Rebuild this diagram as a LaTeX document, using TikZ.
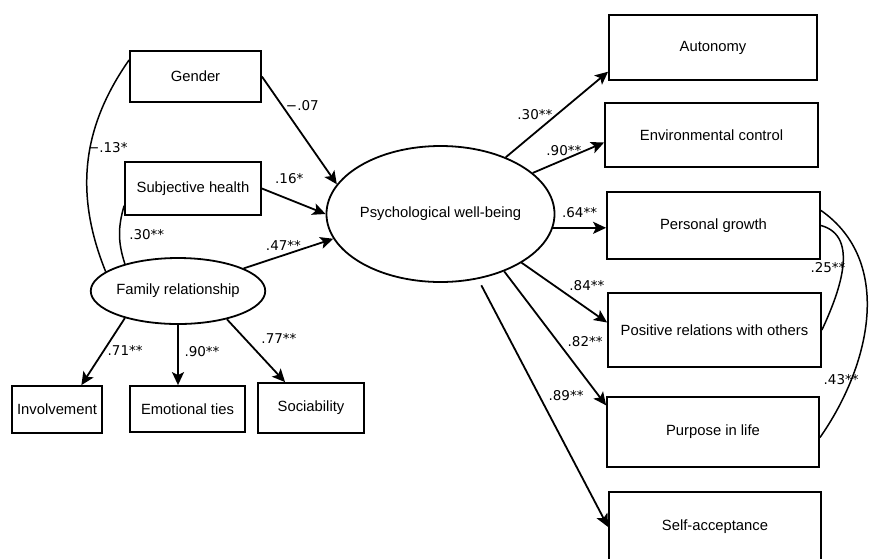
\documentclass[tikz,border=0pt]{standalone}
\usepackage{fontspec}
\setmainfont{Liberation Sans}
\newfontfamily\labelfont{DejaVu Sans}
\usetikzlibrary{arrows.meta,shapes.geometric}

\begin{document}
\begin{tikzpicture}[x=1pt,y=-1pt,
    >={Stealth[length=13pt,width=12pt,inset=3pt]},
    box/.style={draw,line width=1.8pt,inner sep=0pt,font=\fontsize{14.8}{17}\selectfont},
    oval/.style={draw,ellipse,line width=1.8pt,inner sep=0pt,font=\fontsize{14.8}{17}\selectfont},
    arr/.style={->,line width=1.8pt},
    cov/.style={line width=1.5pt},
    lbl/.style={font=\labelfont\fontsize{13.5}{14}\selectfont,inner sep=0pt}]
      \useasboundingbox (0,0) rectangle (870,558);
      \clip (0,0) rectangle (870,558);

      \node[box,minimum width=131pt,minimum height=51pt] (1) at (195.5,76.5) {Gender};
      \node[box,minimum width=136pt,minimum height=53pt] (2) at (193,188.5) {Subjective health};
      \node[oval,minimum width=162pt,minimum height=66pt] (3) at (178,291) {Family relationship};
      \node[box,minimum width=90pt,minimum height=47pt] (4) at (57,409.5) {Involvement};
      \node[box,minimum width=115pt,minimum height=46pt] (5) at (187.5,409) {Emotional ties};
      \node[box,minimum width=106pt,minimum height=50pt] (6) at (311,408) {Sociability};
      \node[oval,minimum width=225pt,minimum height=136pt] (7) at (440.5,214) {Psychological well-being};
      \node[box,minimum width=208pt,minimum height=65pt] (8) at (713,47.5) {Autonomy};
      \node[box,minimum width=213pt,minimum height=64pt] (9) at (711.5,135) {Environmental control};
      \node[box,minimum width=213pt,minimum height=67pt] (10) at (713.5,225.5) {Personal growth};
      \node[box,minimum width=213pt,minimum height=74pt] (11) at (714.5,330) {Positive relations with others};
      \node[box,minimum width=212pt,minimum height=70pt] (12) at (713,432) {Purpose in life};
      \node[box,minimum width=212pt,minimum height=70pt] (13) at (715,527) {Self-acceptance};

      %% predictors
      \draw[arr] (1.east) -- node[lbl,shift={(3,-25)}] {−.07} (7.164);
      \draw[arr] (2.east) -- node[lbl,shift={(-4.5,-23)}] {.16*} (7.180);
      \draw[arr] (3.19) -- node[lbl,shift={(-5,-8)}] {.47**} (7.193);
      \draw[cov] (1.166) to[out=235,in=112] node[lbl,pos=0.4,right=2pt,shift={(-6,6)}] {−.13*} (3.165);
      \draw[cov] (2.194) to[out=254,in=108] node[lbl,pos=0.5,right=9pt] {.30**} (3.153);

      %% family indicators
      \draw[arr] (3.207) -- node[lbl,shift={(22,-1)}] {.71**} (4.45);
      \draw[arr] (3.south) -- node[lbl,shift={(24,-3.5)}] {.90**} (3.south |- 5.north);
      \draw[arr] (3.-30) -- node[lbl,shift={(23,-12.5)}] {.77**} (6.135);

      %% well-being dimensions
      \draw[arr] (7.41) -- node[lbl,shift={(-22,0)}] {.30**} (8.193);
      \draw[arr] (7.24) -- node[lbl,shift={(-4.5,-7.5)}] {.90**} (9.184);
      \draw[arr] (7.-7) -- node[lbl,shift={(0,-15.5)}] {.64**} (7.-7 -| 10.west);
      \draw[arr] (7.-31) -- node[lbl,shift={(22.5,-7)}] {.84**} (11.176);
      \draw[arr] (7.-42) -- node[lbl,shift={(30,3.5)}] {.82**} (12.166);
      \draw[arr,shorten <=7pt] (7.-60) -- node[lbl,shift={(23,-7.5)}] {.89**} (13.west);
      \draw[cov] (10.east) to[out=-15,in=65] node[lbl,pos=0.45,left=1pt,shift={(4,6)}] {.25**} (11.east);
      \draw[cov] (10.8) to[out=-35,in=55] node[lbl,pos=0.7,left=3pt,shift={(6,14)}] {.43**} (12.-3);
\end{tikzpicture}
\end{document}
